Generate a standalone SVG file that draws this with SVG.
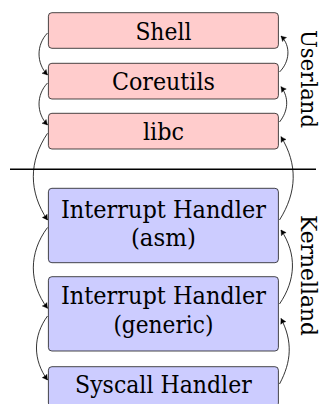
<svg xmlns="http://www.w3.org/2000/svg" width="323" height="404" viewBox="0 0 323 404">
<style>
  .box { stroke: #1a1a1a; stroke-width: 0.8; }
  .user { fill: #ffcccc; }
  .kern { fill: #ccccff; }
  .lbl { font-family: "DejaVu Serif", "Liberation Serif", serif; font-size: 24px; fill: #000; text-anchor: middle; }
  .side { font-size: 23px; }
  .conn { fill: none; stroke: #000; stroke-width: 0.8; marker-end: url(#arr); }
  .sep { stroke: #000; stroke-width: 1.4; }
</style>
<defs>
  <marker id="arr" markerUnits="userSpaceOnUse" viewBox="-6 -4 7 8" refX="0" refY="0" markerWidth="7" markerHeight="8" orient="auto">
    <path d="M-5,-2.8 Q-1.6,-0.8 0,0 Q-1.6,0.8 -5,2.8 Q-3.8,0 -5,-2.8 Z" fill="#000" stroke="#000" stroke-width="0.4" stroke-linejoin="round"/>
  </marker>
</defs>

<g id="shell">
  <rect class="box user" x="48.4" y="12.7" width="230" height="35.6" rx="3.5"/>
  <text class="lbl" x="163.4" y="39.5" textLength="56" lengthAdjust="spacingAndGlyphs">Shell</text>
</g>
<g id="coreutils">
  <rect class="box user" x="48.4" y="63.3" width="230" height="35.7" rx="3.5"/>
  <text class="lbl" x="163.4" y="89.5" textLength="103" lengthAdjust="spacingAndGlyphs">Coreutils</text>
</g>
<g id="libc">
  <rect class="box user" x="48.4" y="113.3" width="230" height="35.7" rx="3.5"/>
  <text class="lbl" x="163.4" y="140" textLength="41" lengthAdjust="spacingAndGlyphs">libc</text>
</g>
<g id="interrupt-asm">
  <rect class="box kern" x="48.4" y="188.3" width="230" height="74.4" rx="3.5"/>
  <text class="lbl" x="163.4" y="218" textLength="205" lengthAdjust="spacingAndGlyphs">Interrupt Handler</text>
  <text class="lbl" x="163.4" y="246" textLength="65" lengthAdjust="spacingAndGlyphs">(asm)</text>
</g>
<g id="interrupt-generic">
  <rect class="box kern" x="48.4" y="276.7" width="230" height="74.3" rx="3.5"/>
  <text class="lbl" x="163.4" y="304" textLength="205" lengthAdjust="spacingAndGlyphs">Interrupt Handler</text>
  <text class="lbl" x="163.4" y="333" textLength="100" lengthAdjust="spacingAndGlyphs">(generic)</text>
</g>
<g id="syscall">
  <rect class="box kern" x="48.4" y="366.7" width="230" height="40" rx="3.5"/>
  <text class="lbl" x="163.4" y="393" textLength="176.7" lengthAdjust="spacingAndGlyphs">Syscall Handler</text>
</g>

<g id="separator">
  <line class="sep" x1="10" y1="169.3" x2="316" y2="169.3"/>
</g>

<g id="label-userland">
  <text class="lbl side" transform="translate(301,79) rotate(90)" x="0" y="0" textLength="98" lengthAdjust="spacingAndGlyphs">Userland</text>
</g>
<g id="label-kernelland">
  <text class="lbl side" transform="translate(301,275.5) rotate(90)" x="0" y="0" textLength="121" lengthAdjust="spacingAndGlyphs">Kernelland</text>
</g>

<g id="connectors">
  <path class="conn" d="M47.5,33 C36.2,44.9 36.2,63.1 47.5,75"/>
  <path class="conn" d="M47.5,83 C36.2,94.9 36.2,113.1 47.5,125"/>
  <path class="conn" d="M47.5,133.3 C28.6,161.3 28.6,192 47.5,220"/>
  <path class="conn" d="M47.5,227.5 C28.6,252.7 28.6,283.1 47.5,308.3"/>
  <path class="conn" d="M47.5,316 C32.8,336.2 32.8,359.8 47.5,380"/>
  <path class="conn" d="M279.5,72 C289.7,61.9 291.2,46.1 281,36"/>
  <path class="conn" d="M279.5,122 C288.3,111 289.3,97.7 281,86.7"/>
  <path class="conn" d="M279.5,220 C297,192.3 298,164.4 281,136.7"/>
  <path class="conn" d="M279.5,304 C296,280 297,254 281,230"/>
  <path class="conn" d="M279.5,384 C291.7,361.4 292.7,341.1 281,318.5"/>
</g>
</svg>
